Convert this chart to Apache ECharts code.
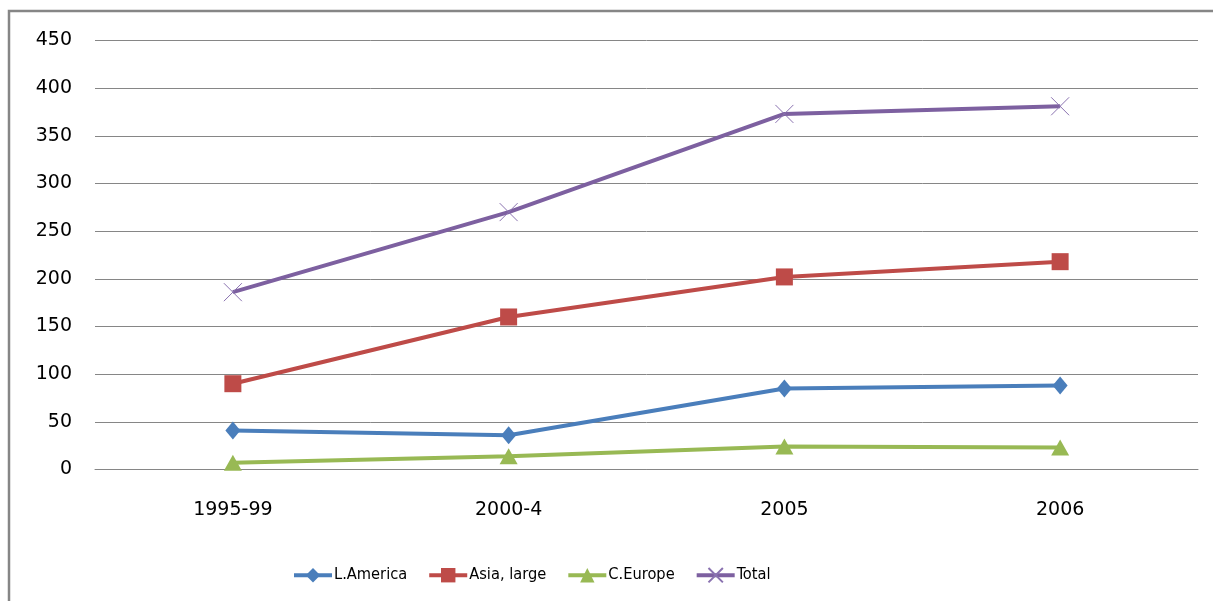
<!DOCTYPE html>
<html>
<head>
<meta charset="utf-8">
<script src="https://cdn.jsdelivr.net/npm/echarts@6/dist/echarts.min.js"></script>
<style>
  html, body { margin: 0; padding: 0; background: #fff; }
  #chart { width: 1213px; height: 601px; }
</style>
</head>
<body>
<div id="chart"></div>
<script>
// Periods on the horizontal axis
const categories = ['1995-99', '2000-4', '2005', '2006'];

// Series values per period
const lAmerica = [41, 36, 85, 88];
const asiaLarge = [90, 160, 202, 218];
const cEurope = [7, 14, 24, 23];
const total = [186, 270, 373, 381];

// Y axis range
const yMin = 0;
const yMax = 450;
const yStep = 50;

const axisFont = 'DejaVu Sans';
const gridGray = '#868686';

// Thin "x" cross used for the Total series markers
const crossPath = 'path://M0,0L10,10M10,0L0,10';

function lineSeries(name, data, color, symbol, size, extraItem) {
  return {
    name: name,
    type: 'line',
    data: data,
    symbol: symbol,
    symbolSize: size,
    smooth: false,
    lineStyle: { color: color, width: 4 },
    itemStyle: Object.assign({ color: color }, extraItem || {}),
    emphasis: { disabled: true },
    z: 3
  };
}

const chart = echarts.init(document.getElementById('chart'), null, { renderer: 'canvas' });

chart.setOption({
  animation: false,
  backgroundColor: '#ffffff',
  graphic: [{
    type: 'rect',
    shape: { x: 9, y: 11, width: 1400, height: 800 },
    style: { fill: 'none', stroke: gridGray, lineWidth: 2.5 },
    silent: true,
    z: -1
  }],
  grid: { left: 95, right: 15, top: 40.5, bottom: 131.5, containLabel: false },
  xAxis: {
    type: 'category',
    data: categories,
    boundaryGap: true,
    axisLine: { show: true, lineStyle: { color: gridGray, width: 1 } },
    axisTick: { show: false },
    axisLabel: { margin: 31, fontFamily: axisFont, fontSize: 19, color: '#000' },
    splitLine: { show: false }
  },
  yAxis: {
    type: 'value',
    min: yMin,
    max: yMax,
    interval: yStep,
    axisLine: { show: false },
    axisTick: { show: false },
    axisLabel: { margin: 23, fontFamily: axisFont, fontSize: 19, color: '#000' },
    splitLine: { show: true, lineStyle: { color: gridGray, width: 1 } }
  },
  legend: {
    left: 287,
    top: 562,
    itemWidth: 38,
    itemHeight: 18,
    itemGap: 20,
    lineStyle: { width: 4 },
    textStyle: { fontFamily: 'DejaVu Sans Condensed', fontSize: 16.3, color: '#000', padding: [0, 0, 0, -3] },
    data: ['L.America', 'Asia, large', 'C.Europe', 'Total']
  },
  series: [
    lineSeries('L.America', lAmerica, '#4a7ebb', 'diamond', [15, 18]),
    lineSeries('Asia, large', asiaLarge, '#be4b48', 'rect', 17),
    lineSeries('C.Europe', cEurope, '#98b954', 'triangle', [18, 16]),
    lineSeries('Total', total, '#7d60a0', crossPath, 18,
      { color: 'rgba(0,0,0,0)', borderColor: '#8a72b0', borderWidth: 1 })
  ]
});
</script>
</body>
</html>
